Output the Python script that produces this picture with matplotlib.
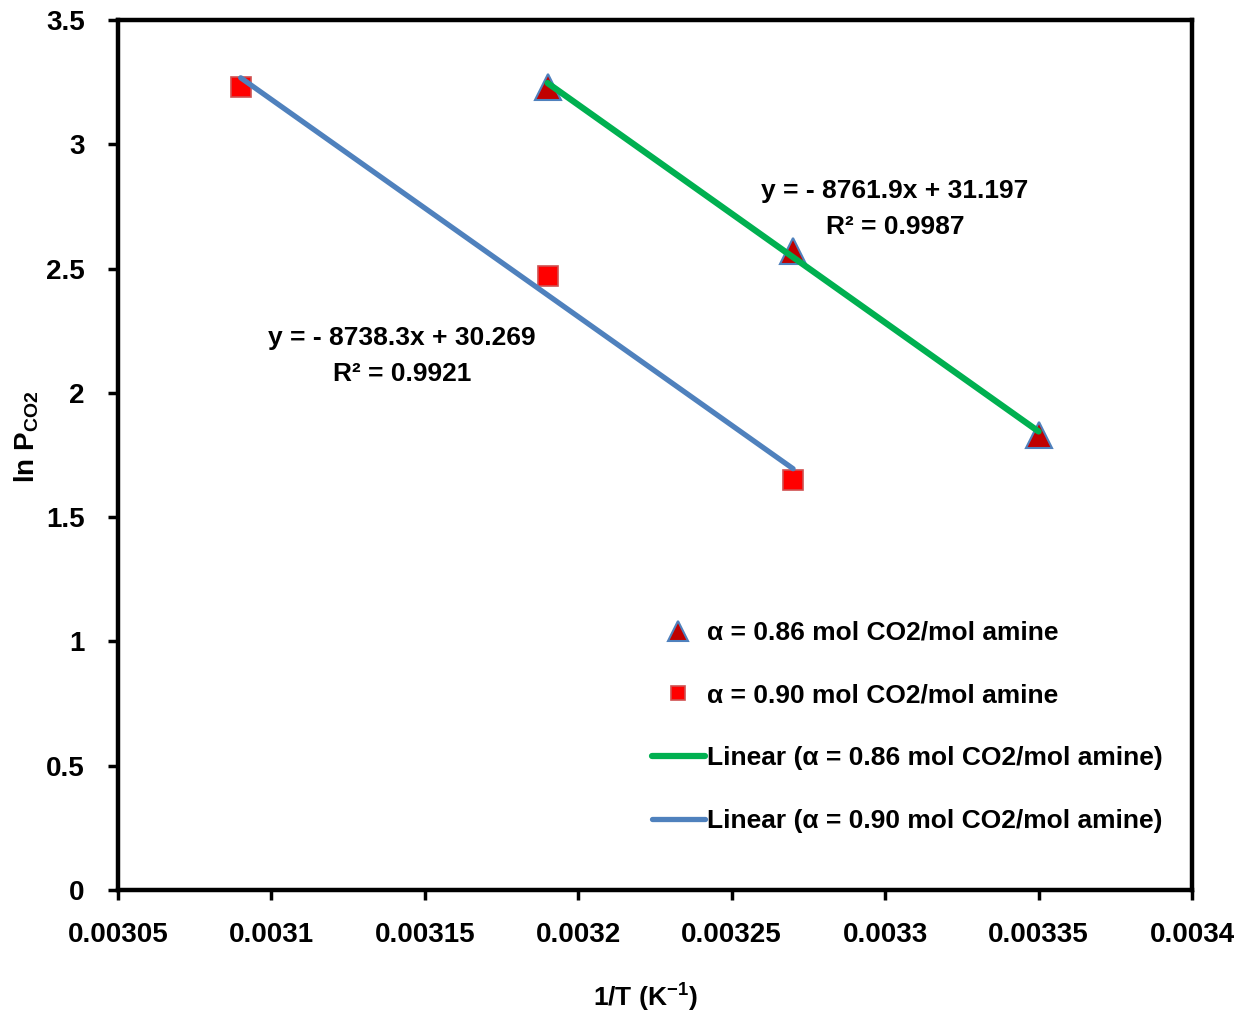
import numpy as np
import matplotlib.pyplot as plt

plt.rcParams['font.family'] = ['Liberation Sans', 'DejaVu Sans']
plt.rcParams['font.weight'] = 'bold'
plt.rcParams['mathtext.fontset'] = 'custom'
plt.rcParams['mathtext.rm'] = 'Liberation Sans:bold'
plt.rcParams['mathtext.it'] = 'Liberation Sans:bold'
plt.rcParams['mathtext.bf'] = 'Liberation Sans:bold'

# 1/T values and ln(P_CO2) for each loading
inv_T_086 = [0.00319, 0.00327, 0.00335]
ln_p_086 = [3.23, 2.57, 1.83]
inv_T_090 = [0.00309, 0.00319, 0.00327]
ln_p_090 = [3.23, 2.47, 1.65]

# linear fits (slope, intercept, R^2)
fit_086 = (-8761.9, 31.197, 0.9987)
fit_090 = (-8738.3, 30.269, 0.9921)

x_ticks = [0.00305, 0.0031, 0.00315, 0.0032, 0.00325, 0.0033, 0.00335, 0.0034]
x_tick_labels = ['0.00305', '0.0031', '0.00315', '0.0032', '0.00325', '0.0033', '0.00335', '0.0034']
y_ticks = [0, 0.5, 1, 1.5, 2, 2.5, 3, 3.5]
y_tick_labels = ['0', '0.5', '1', '1.5', '2', '2.5', '3', '3.5']

fs = 19

fig = plt.figure(figsize=(12.43, 10.17), dpi=100)
ax = fig.add_axes([0.0949, 0.1249, 0.8641, 0.8554])

ax.plot(inv_T_086, ln_p_086, linestyle='none', marker='^', markersize=19,
        markerfacecolor='#C00000', markeredgecolor='#4F81BD', markeredgewidth=1.5,
        label='α = 0.86 mol CO2/mol amine', zorder=2)
ax.plot(inv_T_090, ln_p_090, linestyle='none', marker='s', markersize=14,
        markerfacecolor='#FF0000', markeredgecolor='#D05050', markeredgewidth=1.2,
        label='α = 0.90 mol CO2/mol amine', zorder=2)

xs = np.array([min(inv_T_086), max(inv_T_086)])
ax.plot(xs, fit_086[0] * xs + fit_086[1], color='#00B050', linewidth=4.5,
        solid_capstyle='round', label='Linear (α = 0.86 mol CO2/mol amine)', zorder=3)
xs = np.array([min(inv_T_090), max(inv_T_090)])
ax.plot(xs, fit_090[0] * xs + fit_090[1], color='#4F81BD', linewidth=3.8,
        solid_capstyle='round', label='Linear (α = 0.90 mol CO2/mol amine)', zorder=3)

ax.text(0.0033032, 2.739, 'y = - %.1fx + %.3f\nR² = %.4f' % (-fit_086[0], fit_086[1], fit_086[2]),
        ha='center', va='center', fontsize=fs, fontweight='bold', linespacing=1.6)
ax.text(0.0031426, 2.148, 'y = - %.1fx + %.3f\nR² = %.4f' % (-fit_090[0], fit_090[1], fit_090[2]),
        ha='center', va='center', fontsize=fs, fontweight='bold', linespacing=1.6)

ax.set_xlim(0.00305, 0.0034)
ax.set_ylim(0, 3.5)
ax.set_xticks(x_ticks)
ax.set_xticklabels(x_tick_labels, fontweight='bold')
ax.set_yticks(y_ticks)
ax.set_yticklabels(y_tick_labels, fontweight='bold')
ax.tick_params(direction='out', length=7, width=2.5, labelsize=fs + 1)
ax.tick_params(axis='x', pad=16)
ax.tick_params(axis='y', pad=17)
for s in ax.spines.values():
    s.set_linewidth(3.2)

ax.set_xlabel('1/T (K$^{-1}$)', fontsize=fs, fontweight='bold')
ax.set_ylabel('ln P$_{\\mathrm{CO2}}$', fontsize=fs + 1, fontweight='bold')
ax.xaxis.set_label_coords(0.4907, -0.105)
ax.yaxis.set_label_coords(-0.0717, 0.5207)

leg = ax.legend(loc='lower right', bbox_to_anchor=(0.995, 0.038), frameon=False,
                prop={'size': fs, 'weight': 'bold'}, handlelength=2.0, handletextpad=0.1,
                labelspacing=1.47, markerscale=0.75)

fig.savefig('out.png', dpi=100)
